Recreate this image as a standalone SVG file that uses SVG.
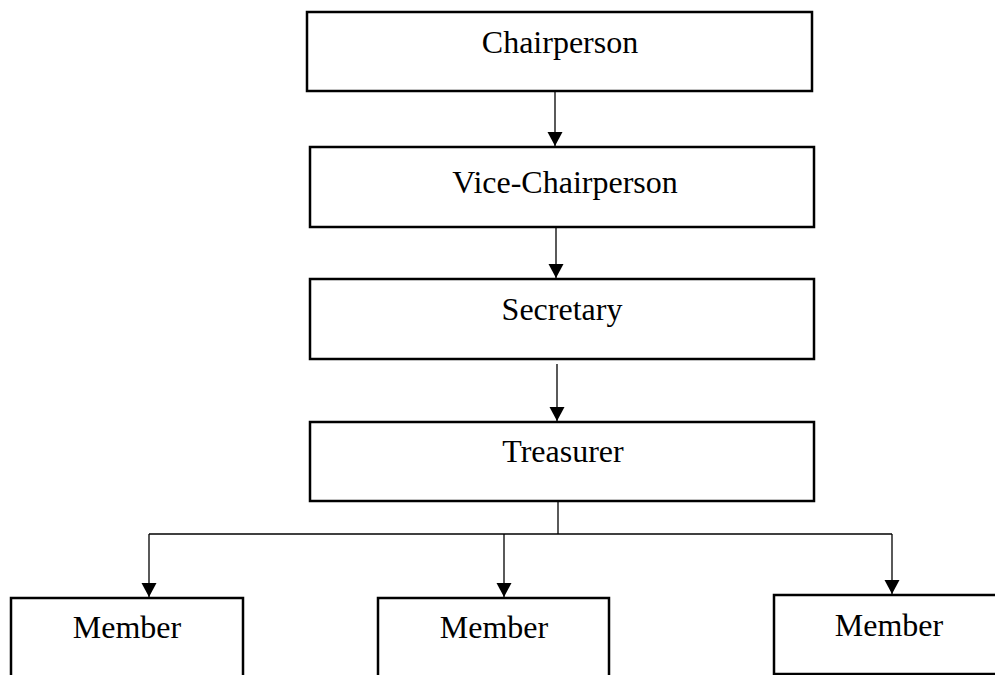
<svg xmlns="http://www.w3.org/2000/svg" width="995" height="675" viewBox="0 0 995 675">
<style>
.box{fill:#fff;stroke:#000;stroke-width:2.5}
.lbl{font-family:"Liberation Serif","Times New Roman",serif;font-size:32px;fill:#000;text-anchor:middle}
.con{fill:none;stroke:#000;stroke-width:1.3}
</style>
<defs>
<marker id="ah" markerUnits="userSpaceOnUse" markerWidth="16" markerHeight="16" viewBox="0 0 16 16" refX="14" refY="8" orient="auto">
<path d="M0,0.5 L14,8 L0,15.5 Z" fill="#000"/>
</marker>
</defs>
<rect width="995" height="675" fill="#fff"/>
<g id="connectors">
<path class="con" d="M555,91 V146" marker-end="url(#ah)"/>
<path class="con" d="M556,227 V278" marker-end="url(#ah)"/>
<path class="con" d="M557,364 V421" marker-end="url(#ah)"/>
<path class="con" d="M558,501 V534"/>
<path class="con" d="M149,534 H892"/>
<path class="con" d="M149,534 V597" marker-end="url(#ah)"/>
<path class="con" d="M504,534 V597" marker-end="url(#ah)"/>
<path class="con" d="M892,534 V594" marker-end="url(#ah)"/>
</g>
<g id="chairperson">
<rect class="box" x="307" y="12" width="505" height="79"/>
<text class="lbl" x="560" y="53">Chairperson</text>
</g>
<g id="vice-chairperson">
<rect class="box" x="310" y="147" width="504" height="80"/>
<text class="lbl" x="565" y="193">Vice-Chairperson</text>
</g>
<g id="secretary">
<rect class="box" x="310" y="279" width="504" height="80"/>
<text class="lbl" x="562" y="320">Secretary</text>
</g>
<g id="treasurer">
<rect class="box" x="310" y="422" width="504" height="79"/>
<text class="lbl" x="563" y="462">Treasurer</text>
</g>
<g id="member1">
<rect class="box" x="11" y="598" width="232" height="100"/>
<text class="lbl" x="127" y="638">Member</text>
</g>
<g id="member2">
<rect class="box" x="378" y="598" width="231" height="100"/>
<text class="lbl" x="494" y="638">Member</text>
</g>
<g id="member3">
<rect class="box" x="774" y="595" width="240" height="79"/>
<text class="lbl" x="889" y="636">Member</text>
</g>
</svg>
